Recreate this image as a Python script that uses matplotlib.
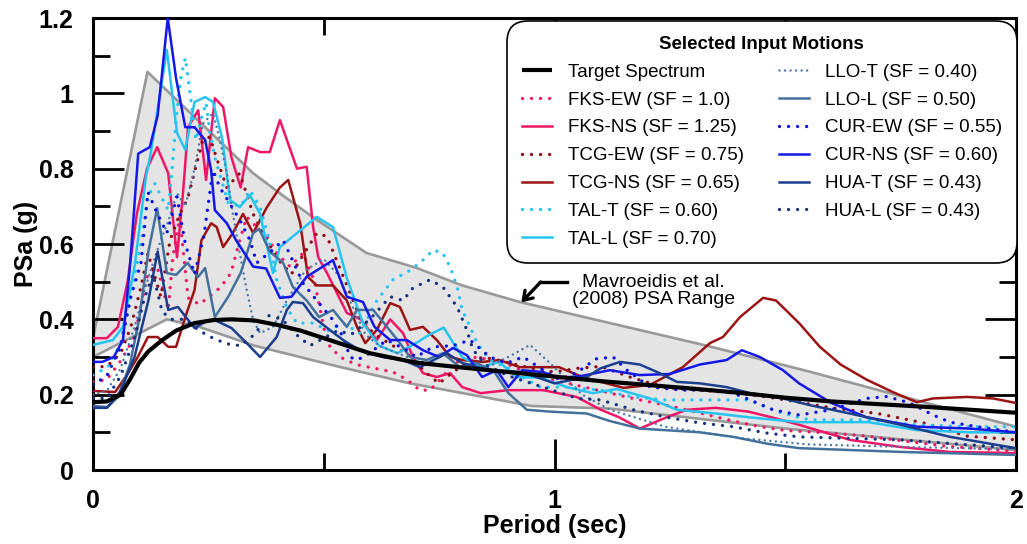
import matplotlib
matplotlib.use('Agg')
import matplotlib.pyplot as plt

# ---------------- data ----------------
band_upper_T = [0, 0.118, 0.347, 0.41, 0.485, 0.593, 0.70, 0.80, 0.925, 1.11, 1.33, 1.55, 1.8, 2.0]
band_upper_v = [0.35, 1.057, 0.788, 0.73, 0.664, 0.576, 0.537, 0.49, 0.446, 0.393, 0.33, 0.262, 0.18, 0.115]
band_lower_T = [0, 0.16, 0.23, 0.35, 0.53, 0.687, 0.95, 1.12, 1.5, 2.0]
band_lower_v = [0.30, 0.40, 0.38, 0.33, 0.275, 0.23, 0.17, 0.163, 0.11, 0.053]

target_T = [0, 0.03, 0.06, 0.08, 0.10, 0.12, 0.15, 0.18, 0.22, 0.26, 0.30, 0.35, 0.40, 0.45, 0.50,
            0.55, 0.60, 0.70, 0.80, 0.90, 1.0, 1.1, 1.2, 1.3, 1.4, 1.5, 1.6, 1.7, 1.8, 1.9, 2.0]
target_v = [0.18, 0.182, 0.20, 0.24, 0.285, 0.315, 0.345, 0.37, 0.39, 0.398, 0.40, 0.397, 0.385, 0.37, 0.35,
            0.33, 0.31, 0.285, 0.272, 0.26, 0.248, 0.236, 0.226, 0.216, 0.205, 0.192, 0.182, 0.175, 0.168, 0.16, 0.152]

fks_ew_T = [0, 0.03, 0.06, 0.09, 0.117, 0.139, 0.163, 0.173, 0.188, 0.206, 0.23, 0.249, 0.277, 0.299, 0.318,
            0.333, 0.355, 0.377, 0.398, 0.427, 0.455, 0.48, 0.507, 0.535, 0.57, 0.61, 0.65, 0.68, 0.708, 0.73,
            0.758, 0.78, 0.832, 0.9, 0.962, 1.03, 1.1, 1.17, 1.25, 1.32, 1.387, 1.445, 1.5, 1.6, 1.676, 1.75,
            1.857, 2.0]
fks_ew_v = [0.234, 0.24, 0.29, 0.353, 0.512, 0.54, 0.425, 0.565, 0.672, 0.457, 0.44, 0.457, 0.486, 0.523, 0.61,
            0.672, 0.645, 0.62, 0.576, 0.54, 0.576, 0.50, 0.337, 0.30, 0.28, 0.27, 0.26, 0.24, 0.212, 0.212,
            0.247, 0.284, 0.30, 0.28, 0.247, 0.23, 0.21, 0.19, 0.17, 0.15, 0.13, 0.115, 0.105, 0.098, 0.09, 0.078,
            0.062, 0.05]

fks_ns_T = [0, 0.03, 0.054, 0.075, 0.095, 0.117, 0.139, 0.163, 0.182, 0.195, 0.206, 0.228, 0.245, 0.264, 0.282,
            0.30, 0.32, 0.336, 0.362, 0.383, 0.405, 0.442, 0.463, 0.477, 0.488, 0.507, 0.55, 0.58, 0.615, 0.644,
            0.672, 0.693, 0.715, 0.745, 0.774, 0.80, 0.84, 0.90, 0.975, 1.048, 1.1, 1.14, 1.185, 1.243, 1.287,
            1.35, 1.42, 1.47, 1.53, 1.64, 1.75, 1.857, 2.0]
fks_ns_v = [0.35, 0.35, 0.38, 0.50, 0.68, 0.80, 0.857, 0.788, 0.565, 0.735, 0.91, 0.955, 0.77, 0.987, 0.964,
            0.83, 0.75, 0.857, 0.844, 0.844, 0.929, 0.80, 0.805, 0.645, 0.565, 0.523, 0.417, 0.40, 0.345, 0.40,
            0.363, 0.30, 0.257, 0.247, 0.257, 0.22, 0.204, 0.212, 0.212, 0.194, 0.16, 0.14, 0.11, 0.14, 0.16,
            0.165, 0.155, 0.14, 0.12, 0.08, 0.061, 0.048, 0.045]

tcg_ew_T = [0, 0.03, 0.06, 0.082, 0.104, 0.119, 0.147, 0.167, 0.188, 0.205, 0.225, 0.238, 0.253, 0.27, 0.29,
            0.318, 0.347, 0.368, 0.40, 0.43, 0.46, 0.485, 0.507, 0.53, 0.557, 0.58, 0.61, 0.65, 0.69, 0.72,
            0.75, 0.78, 0.81, 0.845, 0.9, 0.95, 1.0, 1.05, 1.1, 1.17, 1.243, 1.315, 1.39, 1.46, 1.53, 1.6,
            1.7, 1.8, 1.894, 2.0]
tcg_ew_v = [0.273, 0.275, 0.31, 0.38, 0.486, 0.576, 0.46, 0.61, 0.68, 0.72, 0.815, 0.876, 0.884, 0.82, 0.75,
            0.788, 0.68, 0.629, 0.56, 0.52, 0.58, 0.629, 0.62, 0.55, 0.47, 0.40, 0.36, 0.33, 0.30, 0.26,
            0.23, 0.26, 0.284, 0.30, 0.285, 0.27, 0.26, 0.27, 0.275, 0.244, 0.218, 0.212, 0.205, 0.194, 0.18, 0.165,
            0.15, 0.125, 0.09, 0.08]

tcg_ns_T = [0, 0.048, 0.076, 0.097, 0.119, 0.14, 0.163, 0.18, 0.2, 0.22, 0.235, 0.256, 0.268, 0.282, 0.303,
            0.325, 0.347, 0.377, 0.405, 0.423, 0.449, 0.466, 0.485, 0.52, 0.55, 0.572, 0.59, 0.615, 0.644,
            0.665, 0.687, 0.715, 0.745, 0.774, 0.80, 0.845, 0.88, 0.925, 1.01, 1.06, 1.15, 1.207, 1.278,
            1.337, 1.365, 1.402, 1.452, 1.48, 1.53, 1.575, 1.62, 1.676, 1.733, 1.785, 1.82, 1.894, 1.95, 2.0]
tcg_ns_v = [0.21, 0.207, 0.257, 0.30, 0.353, 0.353, 0.327, 0.327, 0.406, 0.478, 0.61, 0.655, 0.645, 0.592,
            0.629, 0.68, 0.629, 0.698, 0.75, 0.77, 0.655, 0.512, 0.49, 0.49, 0.45, 0.38, 0.337, 0.372, 0.443,
            0.433, 0.372, 0.38, 0.345, 0.30, 0.292, 0.287, 0.292, 0.273, 0.273, 0.247, 0.218, 0.226, 0.273,
            0.337, 0.353, 0.406, 0.457, 0.45, 0.39, 0.327, 0.28, 0.24, 0.207, 0.18, 0.19, 0.194, 0.19, 0.178]

tal_t_T = [0, 0.032, 0.06, 0.082, 0.104, 0.119, 0.134, 0.15, 0.163, 0.173, 0.18, 0.19, 0.20, 0.206, 0.213,
           0.223, 0.234, 0.245, 0.253, 0.264, 0.293, 0.32, 0.34, 0.362, 0.38, 0.398, 0.42, 0.442, 0.477, 0.51,
           0.542, 0.578, 0.615, 0.65, 0.687, 0.715, 0.737, 0.758, 0.774, 0.789, 0.80, 0.817, 0.832, 0.86, 0.90,
           0.94, 0.969, 1.03, 1.1, 1.17, 1.243, 1.33, 1.42, 1.495, 1.554, 1.676, 1.785, 1.9, 2.0]
tal_t_v = [0.252, 0.273, 0.337, 0.46, 0.603, 0.725, 0.76, 0.72, 0.69, 0.823, 0.93, 1.04, 1.094, 1.04, 0.975,
           0.876, 0.93, 0.975, 0.90, 0.83, 0.709, 0.70, 0.743, 0.698, 0.62, 0.505, 0.43, 0.39, 0.39, 0.37,
           0.39, 0.363, 0.45, 0.505, 0.53, 0.557, 0.584, 0.576, 0.539, 0.486, 0.425, 0.38, 0.337, 0.292, 0.27,
           0.24, 0.22, 0.22, 0.212, 0.194, 0.186, 0.186, 0.186, 0.15, 0.133, 0.133, 0.12, 0.115, 0.115]

tal_l_T = [0, 0.043, 0.065, 0.09, 0.115, 0.125, 0.16, 0.182, 0.2, 0.22, 0.243, 0.26, 0.28, 0.297, 0.318,
           0.34, 0.362, 0.39, 0.405, 0.442, 0.485, 0.52, 0.55, 0.585, 0.62, 0.66, 0.70, 0.73, 0.76, 0.80,
           0.84, 0.88, 0.918, 0.97, 1.027, 1.083, 1.135, 1.207, 1.265, 1.35, 1.42, 1.53, 1.68, 1.785, 1.9, 2.0]
tal_l_v = [0.332, 0.345, 0.38, 0.54, 0.78, 0.84, 1.115, 0.895, 0.85, 0.977, 0.99, 0.977, 0.88, 0.717, 0.698,
           0.73, 0.68, 0.523, 0.592, 0.629, 0.672, 0.645, 0.51, 0.39, 0.33, 0.31, 0.337, 0.36, 0.378, 0.30,
           0.273, 0.287, 0.247, 0.245, 0.22, 0.204, 0.215, 0.19, 0.16, 0.15, 0.14, 0.127, 0.127, 0.106, 0.10, 0.10]

llo_t_T = [0, 0.03, 0.06, 0.09, 0.11, 0.13, 0.15, 0.163, 0.182, 0.2, 0.22, 0.238, 0.26, 0.275, 0.29, 0.303,
           0.318, 0.333, 0.347, 0.362, 0.39, 0.42, 0.46, 0.5, 0.53, 0.56, 0.59, 0.62, 0.66, 0.7, 0.75, 0.8,
           0.85, 0.9, 0.947, 0.99, 1.02, 1.06, 1.12, 1.24, 1.4, 1.55, 1.8, 2.0]
llo_t_v = [0.20, 0.21, 0.27, 0.38, 0.47, 0.55, 0.62, 0.66, 0.735, 0.70, 0.80, 0.92, 0.947, 0.876, 0.788, 0.68,
           0.576, 0.478, 0.398, 0.363, 0.38, 0.45, 0.53, 0.56, 0.52, 0.44, 0.36, 0.33, 0.31, 0.29, 0.28, 0.27,
           0.27, 0.30, 0.332, 0.284, 0.247, 0.20, 0.16, 0.115, 0.085, 0.068, 0.06, 0.055]

llo_l_T = [0, 0.032, 0.054, 0.08, 0.10, 0.12, 0.139, 0.16, 0.18, 0.205, 0.227, 0.243, 0.264, 0.293, 0.32,
           0.347, 0.36, 0.383, 0.412, 0.433, 0.463, 0.49, 0.52, 0.55, 0.572, 0.607, 0.66, 0.687, 0.723, 0.758,
           0.795, 0.832, 0.87, 0.90, 0.94, 0.99, 1.07, 1.12, 1.185, 1.315, 1.387, 1.46, 1.53, 1.75, 2.0]
llo_l_v = [0.17, 0.167, 0.194, 0.28, 0.40, 0.58, 0.695, 0.523, 0.518, 0.55, 0.512, 0.536, 0.406, 0.46, 0.523,
           0.629, 0.64, 0.58, 0.55, 0.486, 0.45, 0.406, 0.425, 0.38, 0.425, 0.425, 0.345, 0.30, 0.292, 0.31,
           0.273, 0.284, 0.26, 0.204, 0.16, 0.155, 0.15, 0.13, 0.11, 0.10, 0.088, 0.07, 0.058, 0.048, 0.04]

cur_ew_T = [0, 0.03, 0.06, 0.082, 0.104, 0.119, 0.136, 0.16, 0.182, 0.2, 0.22, 0.24, 0.26, 0.275, 0.3, 0.318,
            0.34, 0.355, 0.385, 0.412, 0.435, 0.455, 0.485, 0.52, 0.542, 0.557, 0.572, 0.593, 0.637, 0.68, 0.70,
            0.737, 0.78, 0.817, 0.86, 0.897, 0.932, 0.97, 1.01, 1.05, 1.09, 1.127, 1.157, 1.207, 1.278, 1.35,
            1.387, 1.424, 1.473, 1.53, 1.6, 1.676, 1.72, 1.77, 1.82, 1.857, 1.915, 2.0]
cur_ew_v = [0.226, 0.25, 0.327, 0.46, 0.55, 0.738, 0.69, 0.629, 0.725, 0.60, 0.52, 0.62, 0.796, 0.75, 0.70,
            0.664, 0.61, 0.55, 0.58, 0.61, 0.55, 0.496, 0.45, 0.398, 0.353, 0.30, 0.292, 0.305, 0.345, 0.318, 0.30,
            0.327, 0.33, 0.345, 0.30, 0.284, 0.30, 0.27, 0.24, 0.26, 0.295, 0.30, 0.265, 0.22, 0.212, 0.212,
            0.204, 0.186, 0.16, 0.146, 0.16, 0.19, 0.195, 0.178, 0.146, 0.127, 0.115, 0.10]

cur_ns_T = [0, 0.02, 0.045, 0.065, 0.08, 0.098, 0.123, 0.14, 0.162, 0.18, 0.20, 0.22, 0.243, 0.256, 0.264,
            0.29, 0.31, 0.347, 0.375, 0.405, 0.43, 0.463, 0.52, 0.55, 0.585, 0.61, 0.644, 0.68, 0.715, 0.75,
            0.78, 0.81, 0.843, 0.875, 0.90, 0.93, 0.975, 1.01, 1.06, 1.12, 1.185, 1.25, 1.315, 1.373, 1.406,
            1.445, 1.495, 1.53, 1.60, 1.676, 1.785, 1.9, 2.0]
cur_ns_v = [0.287, 0.287, 0.30, 0.345, 0.54, 0.84, 0.857, 0.94, 1.2, 1.04, 0.91, 0.91, 0.876, 0.796, 0.69,
            0.655, 0.61, 0.54, 0.535, 0.457, 0.46, 0.513, 0.557, 0.46, 0.446, 0.38, 0.345, 0.345, 0.318, 0.30,
            0.324, 0.305, 0.247, 0.265, 0.22, 0.265, 0.26, 0.244, 0.25, 0.265, 0.252, 0.255, 0.28, 0.292, 0.318,
            0.30, 0.265, 0.23, 0.178, 0.14, 0.115, 0.11, 0.10]

hua_t_T = [0, 0.03, 0.06, 0.09, 0.12, 0.14, 0.163, 0.184, 0.205, 0.22, 0.243, 0.264, 0.30, 0.333, 0.362,
           0.398, 0.42, 0.433, 0.455, 0.477, 0.513, 0.542, 0.578, 0.628, 0.672, 0.708, 0.767, 0.80, 0.86, 0.93,
           1.0, 1.07, 1.1, 1.142, 1.185, 1.228, 1.265, 1.315, 1.373, 1.424, 1.495, 1.554, 1.64, 1.75, 1.857, 2.0]
hua_t_v = [0.165, 0.165, 0.21, 0.30, 0.45, 0.58, 0.425, 0.433, 0.40, 0.377, 0.393, 0.398, 0.377, 0.337, 0.30,
           0.353, 0.425, 0.446, 0.443, 0.406, 0.372, 0.345, 0.318, 0.30, 0.292, 0.273, 0.31, 0.284, 0.265, 0.26,
           0.23, 0.247, 0.27, 0.287, 0.28, 0.257, 0.234, 0.23, 0.22, 0.204, 0.19, 0.172, 0.15, 0.12, 0.088, 0.058]

hua_l_T = [0, 0.03, 0.06, 0.09, 0.11, 0.13, 0.15, 0.17, 0.2, 0.23, 0.26, 0.29, 0.32, 0.35, 0.38, 0.41, 0.44,
           0.47, 0.5, 0.53, 0.56, 0.6, 0.644, 0.672, 0.693, 0.73, 0.758, 0.789, 0.81, 0.823, 0.85, 0.9, 0.95,
           1.0, 1.05, 1.1, 1.17, 1.243, 1.315, 1.387, 1.46, 1.53, 1.75, 2.0]
hua_l_v = [0.19, 0.19, 0.25, 0.35, 0.45, 0.52, 0.42, 0.40, 0.40, 0.37, 0.35, 0.335, 0.33, 0.36, 0.41, 0.40,
           0.36, 0.33, 0.35, 0.37, 0.36, 0.40, 0.46, 0.45, 0.483, 0.505, 0.486, 0.433, 0.372, 0.32, 0.28, 0.25,
           0.23, 0.21, 0.19, 0.186, 0.16, 0.14, 0.125, 0.115, 0.098, 0.088, 0.08, 0.058]

labels = ["FKS-EW (SF = 1.0)", "FKS-NS (SF = 1.25)", "TCG-EW (SF = 0.75)", "TCG-NS (SF = 0.65)",
          "TAL-T (SF = 0.60)", "TAL-L (SF = 0.70)", "LLO-T (SF = 0.40)", "LLO-L (SF = 0.50)",
          "CUR-EW (SF = 0.55)", "CUR-NS (SF = 0.60)", "HUA-T (SF = 0.43)", "HUA-L (SF = 0.43)"]

# ---------------- figure ----------------
W, H, DPI = 1027, 544, 100
fig = plt.figure(figsize=(W / DPI, H / DPI), dpi=DPI)
ax = fig.add_axes([93 / W, 1 - 470 / H, (1016 - 93) / W, (470 - 18) / H])

band_x = band_upper_T + band_lower_T[::-1]
band_y = band_upper_v + band_lower_v[::-1]
ax.fill(band_x, band_y, facecolor='#e4e4e4', edgecolor='none', zorder=1)
ax.plot(band_upper_T, band_upper_v, color='#999999', lw=1.9, zorder=1.5)
ax.plot(band_lower_T, band_lower_v, color='#999999', lw=1.9, zorder=1.5)

DOT = (0, (0.01, 2.7))
FINE = (0, (0.01, 2.2))
series = [
    (fks_ew_T, fks_ew_v, '#ee1767', DOT, 2.4),
    (fks_ns_T, fks_ns_v, '#ee1767', '-', 1.8),
    (tcg_ew_T, tcg_ew_v, '#8c0a14', DOT, 2.4),
    (tcg_ns_T, tcg_ns_v, '#9b1414', '-', 1.8),
    (tal_t_T, tal_t_v, '#22c4f2', DOT, 2.4),
    (tal_l_T, tal_l_v, '#26c4f0', '-', 1.8),
    (llo_t_T, llo_t_v, '#4a78a8', FINE, 1.8),
    (llo_l_T, llo_l_v, '#44709c', '-', 1.8),
    (cur_ew_T, cur_ew_v, '#0a10e0', DOT, 2.4),
    (cur_ns_T, cur_ns_v, '#1418e6', '-', 1.8),
    (hua_t_T, hua_t_v, '#1c3e8e', '-', 1.8),
    (hua_l_T, hua_l_v, '#16337f', DOT, 2.4),
]

handles = []
tl, = ax.plot(target_T, target_v, color='black', lw=3.0, zorder=5, label='Target Spectrum',
              solid_capstyle='butt')
handles.append(tl)
for (T, v, c, ls, lw), lab in zip(series, labels):
    ln, = ax.plot(T, v, color=c, ls=ls, lw=lw, dash_capstyle='round', zorder=3, label=lab)
    handles.append(ln)

ax.set_xlim(0, 2)
ax.set_ylim(0, 1.2)

for s in ax.spines.values():
    s.set_linewidth(2.2)

tick_font = ['Liberation Sans', 'DejaVu Sans']
ax.set_xticks([0, 1, 2])
ax.set_xticks([0.5, 1.5], minor=True)
ax.set_yticks([0, 0.2, 0.4, 0.6, 0.8, 1.0, 1.2])
ax.set_yticks([0.1, 0.3, 0.5, 0.7, 0.9, 1.1], minor=True)
ax.set_xticklabels(['0', '1', '2'])
ax.set_yticklabels(['0', '0.2', '0.4', '0.6', '0.8', '1', '1.2'])
ax.tick_params(which='major', direction='in', length=22, width=2.0, top=True, right=True)
ax.tick_params(which='minor', direction='in', length=12, width=2.0, top=True, right=True)
ax.tick_params(axis='x', which='major', pad=14)
ax.tick_params(axis='y', which='major', pad=14)
for lab in ax.get_xticklabels() + ax.get_yticklabels():
    lab.set_family(tick_font)
    lab.set_fontweight('bold')
    lab.set_fontsize(18)

ax.set_xlabel('Period (sec)', family=tick_font, fontweight='bold', fontsize=18, va='center')
ax.xaxis.set_label_coords(0.5, -0.125)
ax.set_ylabel('PSa (g)', family=tick_font, fontweight='bold', fontsize=18)
ax.yaxis.set_label_coords(-0.06, 0.5)

# annotation
ax.plot([0.968, 1.027], [0.499, 0.499], color='black', lw=2.4, zorder=6)
ax.annotate('', xy=(0.928, 0.445), xytext=(0.970, 0.499),
            arrowprops=dict(arrowstyle='->,head_length=0.6,head_width=0.4', color='black', lw=2.4,
                            shrinkA=0, shrinkB=0), zorder=6)
ax.text(1.215, 0.476, 'Mavroeidis et al.\n(2008) PSA Range', ha='center', va='center',
        family=['Liberation Sans', 'DejaVu Sans'], fontsize=14, linespacing=1.02, zorder=6)

leg = fig.legend(handles=handles, ncol=2, loc='upper left',
                 bbox_to_anchor=(507 / W, 1 - 21 / H), bbox_transform=fig.transFigure,
                 title='Selected Input Motions', frameon=True, fancybox=True,
                 prop={'family': ['Liberation Sans', 'DejaVu Sans'], 'size': 13.5},
                 title_fontproperties={'family': ['Liberation Sans', 'DejaVu Sans'],
                                       'size': 13.5, 'weight': 'bold'},
                 handlelength=1.6, handletextpad=0.85, labelspacing=0.57, columnspacing=1.85,
                 borderpad=0.8, borderaxespad=0)
fr = leg.get_frame()
fr.set_edgecolor('black')
fr.set_linewidth(1.2)
fr.set_alpha(1)
fr.set_boxstyle('round,pad=0,rounding_size=1.1')

fig.savefig('out.png', dpi=DPI)
